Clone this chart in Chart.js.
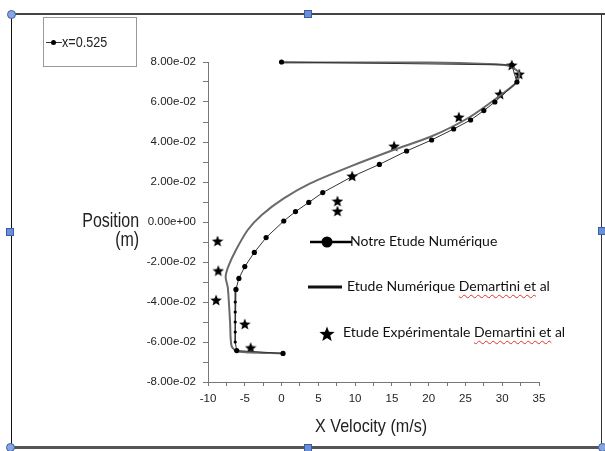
<!DOCTYPE html>
<html>
<head>
<meta charset="utf-8">
<script src="https://cdn.jsdelivr.net/npm/chart.js@4.4.1/dist/chart.umd.min.js"></script>
<style>
  html, body { margin: 0; padding: 0; background: #fff; overflow: hidden; }
  #wrap { position: relative; width: 605px; height: 451px; background: #fff; }
  #c { position: absolute; left: 0; top: 0; }
  .narrow { font-family: 'Liberation Sans', Arial, sans-serif; color: #222; }
  .abs { position: absolute; white-space: nowrap; }
  .leg { font-family: Lato, 'Open Sans', sans-serif; font-size: 14px; color: #111; }
  .sq { text-decoration: underline wavy #d33; text-decoration-thickness: 1px; text-underline-offset: 3px; }
  .h { position: absolute; width: 6px; height: 6px; background: #6b8fd6; border: 1px solid #3a5fa8; }
  .hc { position: absolute; width: 7px; height: 7px; border-radius: 50%; background: #8aa6e0; border: 1px solid #3a5fa8; }
</style>
</head>
<body>
<div id="wrap">
  <canvas id="c" width="605" height="451"></canvas>

  <!-- frame -->
  <div class="abs" style="left:11px;top:13px;width:594px;height:2px;background:#444;"></div>
  <div class="abs" style="left:11px;top:14px;width:1px;height:434px;background:#111;"></div>
  <div class="abs" style="left:601px;top:14px;width:1px;height:434px;background:#333;"></div>
  <div class="abs" style="left:11px;top:446px;width:594px;height:3px;background:#555;"></div>
  <div class="hc" style="left:7px;top:10px;"></div>
  <div class="h" style="left:304px;top:10px;"></div>
  <div class="h" style="left:6px;top:228px;"></div>
  <div class="h" style="left:598px;top:227px;"></div>
  <div class="h" style="left:304px;top:444px;"></div>
  <div class="hc" style="left:6px;top:443px;"></div>
  <div class="hc" style="left:598px;top:443px;"></div>

  <!-- top-left small legend box -->
  <div class="abs" style="left:43px;top:17px;width:94px;height:50px;border:1px solid #999;box-sizing:border-box;"></div>
  <svg class="abs" style="left:44px;top:37px;" width="20" height="12">
    <line x1="2" y1="5.5" x2="18" y2="5.5" stroke="#333" stroke-width="1"/>
    <circle cx="9.5" cy="5.5" r="2.5" fill="#000"/>
  </svg>
  <div class="abs narrow" style="left:62px;top:33px;font-size:15px;transform:scaleX(0.84);transform-origin:0 0;">x=0.525</div>

  <!-- axis titles -->
  <div class="abs narrow" style="right:466px;top:211px;font-size:20px;text-align:right;line-height:19px;transform:scaleX(0.8);transform-origin:100% 0;">Position<br>(m)</div>
  <div class="abs narrow" style="left:315px;top:415px;font-size:19px;transform:scaleX(0.85);transform-origin:0 0;">X Velocity (m/s)</div>

  <!-- in-chart legend -->
  <svg class="abs" style="left:306px;top:232px;" width="50" height="20">
    <line x1="4" y1="10" x2="46" y2="10" stroke="#000" stroke-width="2.5"/>
    <circle cx="21" cy="10" r="5.5" fill="#000"/>
  </svg>
  <div class="abs leg" style="left:350px;top:232px;">Notre Etude Numérique</div>

  <svg class="abs" style="left:306px;top:277px;" width="40" height="20">
    <line x1="2" y1="10" x2="36" y2="10" stroke="#111" stroke-width="3"/>
  </svg>
  <div class="abs leg" style="left:347px;top:277px;">Etude Numérique <span class="sq">Demartini et</span> al</div>

  <svg class="abs" style="left:317px;top:324px;" width="20" height="20">
    <polygon id="legstar" fill="#000" points=""/>
  </svg>
  <div class="abs leg" style="left:343px;top:323px;">Etude Expérimentale <span class="sq">Demartini et</span> al</div>
</div>

<script>
// ---------------- data ----------------
// Notre Etude Numérique (line + circle markers)
const notreX = [0.0, 31.3, 32.0, 29.0, 27.5, 25.7, 23.4, 20.4, 17.0, 13.3, 9.6, 5.6, 3.7, 1.9, 0.3, -2.1, -3.7, -5.0, -5.8, -6.2, -6.3, -6.3, -6.3, -6.3, -6.3, -6.1, 0.2];
const notreY = [0.0800, 0.0785, 0.0700, 0.0600, 0.0557, 0.0510, 0.0465, 0.0410, 0.0355, 0.0288, 0.0227, 0.0147, 0.0098, 0.0052, 0.0005, -0.0078, -0.0152, -0.0223, -0.0282, -0.0337, -0.0400, -0.0450, -0.0500, -0.0550, -0.0600, -0.0643, -0.0657];

// Etude Numérique Demartini et al (line only)
const demX = [0.0, 20.0, 28.0, 31.0, 32.3, 32.0, 30.0, 25.6, 20.5, 15.2, 9.3, 3.9, 0.3, -2.7, -4.6, -6.2, -7.25, -7.6, -7.3, -7.0, -6.8, -6.0, 0.2];
const demY = [0.0798, 0.0797, 0.0790, 0.0780, 0.0745, 0.0700, 0.0640, 0.0525, 0.0430, 0.0360, 0.0277, 0.0193, 0.0118, 0.0035, -0.0040, -0.0140, -0.0223, -0.0275, -0.0330, -0.0500, -0.0620, -0.0648, -0.0657];

// Etude Expérimentale Demartini et al (stars)
const expX = [31.3, 32.3, 29.7, 24.1, 15.3, 9.6, 7.6, 7.6, -8.7, -8.6, -8.9, -5.0, -4.2];
const expY = [0.0785, 0.0740, 0.0640, 0.0525, 0.0380, 0.0230, 0.0105, 0.0055, -0.0095, -0.0243, -0.0390, -0.0510, -0.0628];

// axis ranges / ticks
const xRange = [-10, 35];
const yRange = [-0.08, 0.08];
const xMajorStep = 5, xMinorStep = 2.5;
const yMajorStep = 0.02, yMinorStep = 0.01;

// ---------------- helpers ----------------
function starPoints(cx, cy, R, r) {
  const pts = [];
  for (let i = 0; i < 10; i++) {
    const a = -Math.PI / 2 + i * Math.PI / 5;
    const rad = i % 2 === 0 ? R : r;
    pts.push([cx + rad * Math.cos(a), cy + rad * Math.sin(a)]);
  }
  return pts;
}
function makeStar(size) {
  const cv = document.createElement('canvas');
  cv.width = size; cv.height = size;
  const ctx = cv.getContext('2d');
  const pts = starPoints(size / 2, size / 2 + size * 0.05, size / 2, size / 4.6);
  ctx.beginPath();
  pts.forEach((p, i) => i ? ctx.lineTo(p[0], p[1]) : ctx.moveTo(p[0], p[1]));
  ctx.closePath();
  ctx.fillStyle = '#000';
  ctx.fill();
  return cv;
}
document.getElementById('legstar').setAttribute('points',
  starPoints(10, 10.5, 8, 3.4).map(p => p[0].toFixed(2) + ',' + p[1].toFixed(2)).join(' '));

function fmtExp(v) {
  v = Math.round(v * 1e6) / 1e6;
  if (v === 0) return '0.00e+00';
  const e = Math.floor(Math.log10(Math.abs(v)) + 1e-9);
  const m = v / Math.pow(10, e);
  const es = (e < 0 ? '-' : '+') + String(Math.abs(e)).padStart(2, '0');
  return m.toFixed(2) + 'e' + es;
}
const zip = (xs, ys) => xs.map((x, i) => ({ x, y: ys[i] }));

const tickFont = { family: "'Liberation Sans', Arial, sans-serif", size: 11.5 };
const axisColor = '#777';

new Chart(document.getElementById('c'), {
  type: 'scatter',
  data: {
    datasets: [
      {
        label: 'Notre Etude Numérique',
        data: zip(notreX, notreY),
        showLine: true,
        borderColor: '#333',
        borderWidth: 1,
        pointRadius: notreX.map((x, i) => (i >= 20 && i <= 24) ? 1.6 : 2.6),
        pointBackgroundColor: '#000',
        pointBorderColor: '#000',
        pointBorderWidth: 0,
        tension: 0
      },
      {
        label: 'Etude Numérique Demartini et al',
        data: zip(demX, demY),
        showLine: true,
        borderColor: '#6a6a6a',
        borderWidth: 2,
        pointRadius: 0,
        tension: 0.25
      },
      {
        label: 'Etude Expérimentale Demartini et al',
        data: zip(expX, expY),
        showLine: false,
        pointStyle: makeStar(12),
        pointRadius: 6
      }
    ]
  },
  options: {
    responsive: false,
    animation: false,
    clip: false,
    layout: { padding: { left: 140, right: 66, top: 62, bottom: 39 } },
    plugins: { legend: { display: false }, tooltip: { enabled: false } },
    scales: {
      x: {
        type: 'linear',
        min: xRange[0], max: xRange[1],
        afterFit: s => { s.height = 30; },
        ticks: {
          stepSize: xMinorStep,
          autoSkip: false,
          maxRotation: 0,
          padding: 6,
          color: '#222',
          font: tickFont,
          callback: v => (Math.abs(v % xMajorStep) < 1e-9 ? String(v) : '')
        },
        grid: { drawOnChartArea: false, drawTicks: true, tickLength: 4, color: axisColor },
        border: { display: true, color: axisColor, width: 1 }
      },
      y: {
        type: 'linear',
        min: yRange[0], max: yRange[1],
        afterFit: s => { s.width = 68; },
        ticks: {
          stepSize: yMinorStep,
          autoSkip: false,
          padding: 7,
          color: '#222',
          font: tickFont,
          callback: v => (Math.round(v / yMinorStep) % Math.round(yMajorStep / yMinorStep) === 0 ? fmtExp(v) : '')
        },
        grid: { drawOnChartArea: false, drawTicks: true, tickLength: 5, color: axisColor },
        border: { display: true, color: axisColor, width: 1 }
      }
    }
  }
});
</script>
</body>
</html>
